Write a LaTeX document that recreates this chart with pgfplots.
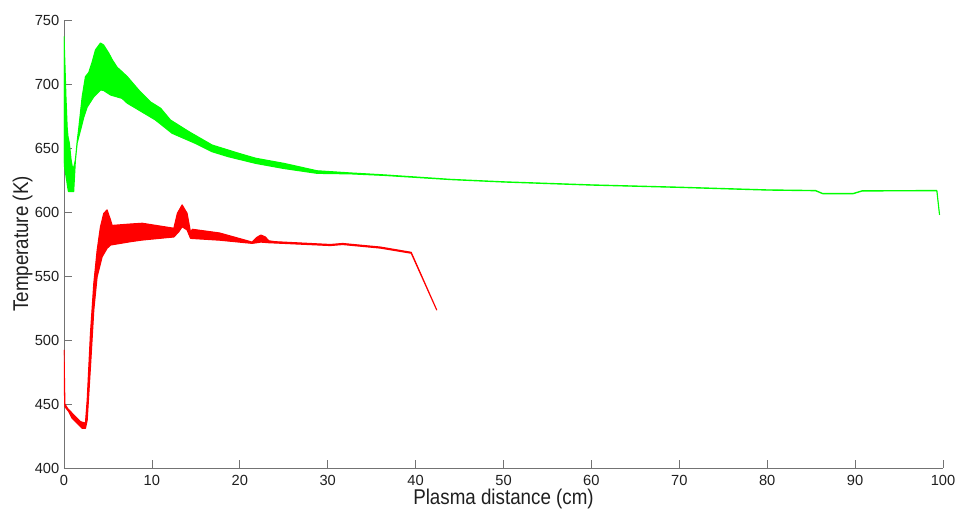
\documentclass[border=0pt]{standalone}
\usepackage{fontspec}
\setmainfont{Liberation Sans}
\newfontfamily\labelfont[FakeStretch=0.88]{Liberation Sans}
\usepackage{pgfplots}
\pgfplotsset{compat=1.18}
\definecolor{axgray}{gray}{0.45}
\definecolor{txt}{gray}{0.12}
\begin{document}
\begin{tikzpicture}
\path[use as bounding box] (-48pt,-31.5pt) rectangle (672pt,351pt);
\begin{axis}[
  at={(0,0)}, anchor=south west,
  scale only axis, width=659.25pt, height=336pt,
  xmin=0, xmax=100, ymin=400, ymax=750,
  axis x line=bottom, axis y line=left,
  axis line style={draw=axgray, line width=0.6pt, -},
  tick style={draw=axgray, line width=0.6pt},
  tick align=inside, major tick length=6pt,
  xtick={0,10,...,100}, ytick={400,450,...,750},
  /pgf/number format/assume math mode=true,
  ticklabel style={font=\fontsize{11}{13}\selectfont, text=txt},
  xticklabel style={yshift=-2pt},
  xlabel={Plasma distance (cm)}, ylabel={Temperature (K)},
  label style={font=\labelfont\fontsize{16}{18}\selectfont, text=txt},
  xlabel style={at={(axis description cs:0.5,-0.0804)}, anchor=base},
  ylabel style={at={(axis description cs:-0.0407,0.5)}, anchor=base},
]
% green band: upper edge left to right, then lower edge right to left
\addplot[fill=green, draw=green, line width=0.85pt, line join=round] coordinates {
(0.0,737) (0.1,716) (0.22,690) (0.36,666) (0.45,659) (0.6,654) (0.8,641) (1.0,633) (1.15,636) (1.31,641) (1.5,655) (1.69,666) (2.07,690) (2.44,705.7) (2.82,709) (3.2,717) (3.58,726.6) (4.15,732) (4.5,730.5) (5.1,724) (5.5,718.8) (6.05,713) (6.6,709.6) (7.2,705.7) (8.5,695.3) (9.83,686) (10.4,683.6) (11,681) (12.1,671.9) (14.2,662.8) (16.85,652.3) (19.9,645.8) (21.8,642) (25,638) (28.8,632.2) (32.6,630.5) (36.4,629) (44,625.5) (50,623.6) (60,621.2) (70,619.4) (80,617.3) (85.5,616.8) (86.3,614.5) (89.8,614.5) (90.8,616.6) (99.3,616.8) (99.6,598)
(99.3,616.6) (90.8,616.4) (89.8,614.3) (86.3,614.3) (85.5,616.6) (80,617.1) (70,619.2) (60,621) (50,623.4) (44,625.3) (36.4,628.6) (32.6,629.8) (28.8,630.2) (25,634) (21.8,638) (18.7,643.2) (16.85,647.1) (14.95,653.6) (12.3,661.5) (10.4,671.9) (8.5,679.7) (7.2,685) (6.6,688.8) (5.3,691.4) (4.5,695) (4.15,695.3) (3.39,690) (2.64,682) (2.25,674) (1.88,664) (1.5,654) (1.3,641) (1.1,616) (0.5,616) (0.3,625) (0.0,638)
} --cycle;
% red band
\addplot[fill=red, draw=red, line width=0.85pt, line join=round] coordinates {
(0,492) (0.05,470) (0.1,450) (0.4,446.6) (1.12,441.4) (1.88,436.2) (2.44,435) (2.64,453) (3.01,505) (3.39,544) (3.77,570) (4.15,588.5) (4.53,599) (4.9,601.6) (5.29,593.8) (5.48,589.5) (7.56,590.6) (8.9,591.2) (12.5,587.3) (12.9,599) (13.44,605.5) (14.0,599) (14.4,584) (14.6,586.5) (17.7,583.6) (21.4,576.5) (21.9,580) (22.4,582) (22.9,580.5) (23.3,577.5) (24,576.8) (30.3,574.6) (31.7,575.4) (36,572.6) (39.5,568.5) (42.4,523.5)
(39.5,567.8) (36,571.8) (31.7,574.6) (30.3,573.8) (24,575.8) (23.3,576) (22.4,576.5) (21.4,575.5) (17.7,578) (14.4,579.4) (14.0,586) (13.44,588.5) (13.06,584.6) (12.5,580.5) (8.9,578.1) (7.56,576.8) (5.29,574.2) (4.9,571.6) (4.34,565) (3.77,549.5) (3.39,523.4) (3.01,479) (2.64,437.5) (2.44,431) (2.07,431) (1.5,434.9) (0.93,438.8) (0.55,444) (0.1,447.9) (0.05,460) (0,488)
} --cycle;
\end{axis}
\end{tikzpicture}
\end{document}
